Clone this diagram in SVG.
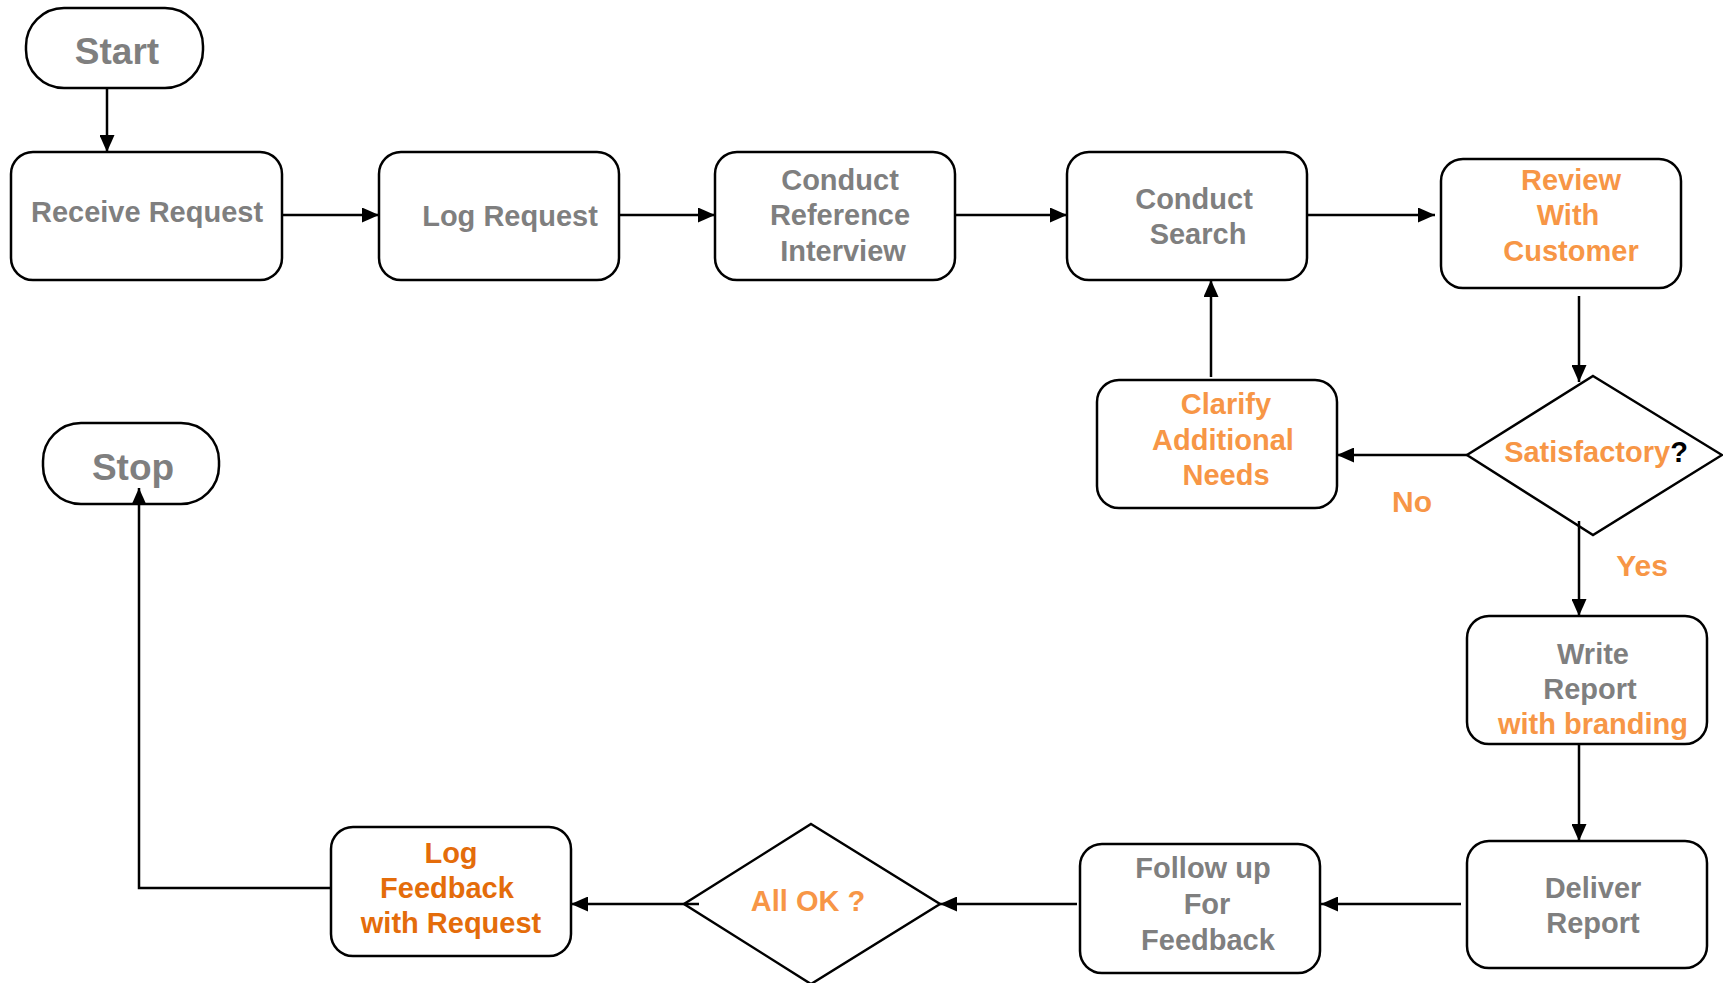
<svg xmlns="http://www.w3.org/2000/svg" width="1723" height="983" viewBox="0 0 1723 983">
<style>
.box{fill:#fff;stroke:#000;stroke-width:2.5}
.t{font-family:"Liberation Sans",Arial,sans-serif;font-weight:bold;font-size:29px;text-anchor:middle}
.g{fill:#7f7f7f}
.o{fill:#f79646}
.d{fill:#e46c0a}
.k{fill:#000}
.c{fill:none;stroke:#000;stroke-width:2.5}
</style>
<defs>
<marker id="ah" markerUnits="userSpaceOnUse" markerWidth="17" markerHeight="15" refX="17" refY="7.5" orient="auto">
<path d="M0,0 L17,7.5 L0,15 Z" fill="#000"/>
</marker>
</defs>
<g id="start">
<rect class="box" x="26" y="8" width="177" height="80" rx="38" ry="38"/>
<text class="t g" x="117" y="64" style="font-size:37px">Start</text>
</g>
<g id="receive-request">
<rect class="box" x="11" y="152" width="271" height="128" rx="22"/>
<text class="t g" x="147" y="222">Receive Request</text>
</g>
<g id="log-request">
<rect class="box" x="379" y="152" width="240" height="128" rx="22"/>
<text class="t g" x="510" y="226">Log Request</text>
</g>
<g id="conduct-reference-interview">
<rect class="box" x="715" y="152" width="240" height="128" rx="22"/>
<text class="t g" x="840" y="190">Conduct</text>
<text class="t g" x="840" y="225">Reference</text>
<text class="t g" x="843" y="261">Interview</text>
</g>
<g id="conduct-search">
<rect class="box" x="1067" y="152" width="240" height="128" rx="22"/>
<text class="t g" x="1194" y="209">Conduct</text>
<text class="t g" x="1198" y="244">Search</text>
</g>
<g id="review-with-customer">
<rect class="box" x="1441" y="159" width="240" height="129" rx="22"/>
<text class="t o" x="1571" y="190">Review</text>
<text class="t o" x="1568" y="225">With</text>
<text class="t o" x="1571" y="261">Customer</text>
</g>
<g id="satisfactory">
<polygon class="box" points="1593,376 1722,455 1593,535 1467,455"/>
<text class="t" x="1596" y="462"><tspan class="o">Satisfactory</tspan><tspan class="k">?</tspan></text>
</g>
<g id="clarify-additional-needs">
<rect class="box" x="1097" y="380" width="240" height="128" rx="22"/>
<text class="t o" x="1226" y="414">Clarify</text>
<text class="t o" x="1223" y="450">Additional</text>
<text class="t o" x="1226" y="485">Needs</text>
</g>
<g id="label-no">
<text class="t o" x="1412" y="512" style="font-size:30px">No</text>
</g>
<g id="label-yes">
<text class="t o" x="1642" y="576" style="font-size:30px">Yes</text>
</g>
<g id="write-report">
<rect class="box" x="1467" y="616" width="240" height="128" rx="22"/>
<text class="t g" x="1593" y="664">Write</text>
<text class="t g" x="1590" y="699">Report</text>
<text class="t o" x="1593" y="734">with branding</text>
</g>
<g id="deliver-report">
<rect class="box" x="1467" y="841" width="240" height="127" rx="22"/>
<text class="t g" x="1593" y="898">Deliver</text>
<text class="t g" x="1593" y="933">Report</text>
</g>
<g id="follow-up">
<rect class="box" x="1080" y="844" width="240" height="129" rx="22"/>
<text class="t g" x="1203" y="878">Follow up</text>
<text class="t g" x="1207" y="914">For</text>
<text class="t g" x="1208" y="950">Feedback</text>
</g>
<g id="all-ok">
<polygon class="box" points="811,824 940,904 811,984 684,904"/>
<text class="t o" x="808" y="911">All OK ?</text>
</g>
<g id="log-feedback">
<rect class="box" x="331" y="827" width="240" height="129" rx="22"/>
<text class="t d" x="451" y="863">Log</text>
<text class="t d" x="447" y="898">Feedback</text>
<text class="t d" x="451" y="933">with Request</text>
</g>
<g id="stop">
<rect class="box" x="43" y="423" width="176" height="81" rx="38" ry="38"/>
<text class="t g" x="133" y="480" style="font-size:37px">Stop</text>
</g>
<g id="connectors">
<line class="c" x1="107" y1="88" x2="107" y2="152" marker-end="url(#ah)"/>
<line class="c" x1="282" y1="215" x2="379" y2="215" marker-end="url(#ah)"/>
<line class="c" x1="619" y1="215" x2="715" y2="215" marker-end="url(#ah)"/>
<line class="c" x1="955" y1="215" x2="1067" y2="215" marker-end="url(#ah)"/>
<line class="c" x1="1307" y1="215" x2="1435" y2="215" marker-end="url(#ah)"/>
<line class="c" x1="1579" y1="296" x2="1579" y2="382" marker-end="url(#ah)"/>
<line class="c" x1="1467" y1="455" x2="1337" y2="455" marker-end="url(#ah)"/>
<line class="c" x1="1211" y1="377" x2="1211" y2="280" marker-end="url(#ah)"/>
<line class="c" x1="1579" y1="521" x2="1579" y2="616" marker-end="url(#ah)"/>
<line class="c" x1="1579" y1="744" x2="1579" y2="841" marker-end="url(#ah)"/>
<line class="c" x1="1461" y1="904" x2="1321" y2="904" marker-end="url(#ah)"/>
<line class="c" x1="1077" y1="904" x2="940" y2="904" marker-end="url(#ah)"/>
<line class="c" x1="699" y1="904" x2="571" y2="904" marker-end="url(#ah)"/>
<polyline class="c" points="331,888 139,888 139,488" marker-end="url(#ah)"/>
</g>
</svg>
